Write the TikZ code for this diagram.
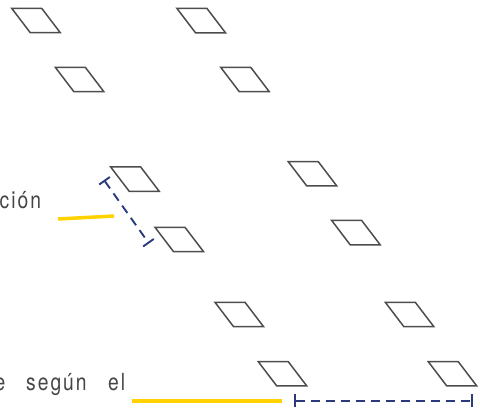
\documentclass[tikz,border=0pt]{standalone}
\usepackage{fontspec}
\setmainfont{TeX Gyre Heros}[FakeStretch=0.82, LetterSpace=8.5]
\usetikzlibrary{arrows.meta}
\definecolor{edgegray}{HTML}{4D4D4D}
\definecolor{dimblue}{HTML}{2B3A7C}
\definecolor{markyellow}{HTML}{FFD200}
\definecolor{textgray}{HTML}{454545}
\tikzset{
  paraline/.style={draw=edgegray, line width=1.5pt, line join=miter},
  para/.pic={\draw[paraline] (0,0) -- (30,0) -- (48.5,24.3) -- (18.5,24.3) -- cycle;},
  dimline/.style={draw=dimblue, line width=1.9pt, dash pattern=on 9pt off 6pt,
    {Bar[width=13pt]}-{Bar[width=13pt]}},
  hiline/.style={draw=markyellow, line width=3.5pt},
  lbl/.style={anchor=base west, inner sep=0pt, text=textgray,
    font=\fontsize{23.5}{28}\selectfont},
}
\begin{document}
\begin{tikzpicture}[x=1pt,y=-1pt]
\useasboundingbox (0,0) rectangle (480,411);
\clip (0,0) rectangle (480,411);
\foreach \px/\py in {11.7/8.3, 177/8.5, 55.3/67.3, 220.7/67.3, 110.7/167, 288.3/161.7,
  155/227.3, 331.7/220.5, 215/302.3, 385.3/302.3, 258.3/361.7, 428.3/361.7}
  \pic at (\px,\py) {para};
% labels
\node[lbl] (t1) at (-0.5,209) {ción};
\node[lbl] (t2) at (-5.5,390.7) {e};
\node[lbl] (t3) at (26,390.7) {según};
\node[lbl] (t4) at (108,390.7) {el};
% highlight lines
\coordinate (y1a) at (58,219);
\coordinate (y1b) at (114,216);
\coordinate (y2a) at (131.7,401);
\coordinate (y2b) at (281.7,401);
\draw[hiline] (y1a) -- (y1b);
\draw[hiline] (y2a) -- (y2b);
% dimension lines
\coordinate (d1a) at (104,180);
\coordinate (d1b) at (149,243.5);
\coordinate (d2a) at (294.3,401);
\coordinate (d2b) at (473.3,401);
\draw[dimline] (d1a) -- (d1b);
\draw[dimline] (d2a) -- (d2b);
\end{tikzpicture}
\end{document}
